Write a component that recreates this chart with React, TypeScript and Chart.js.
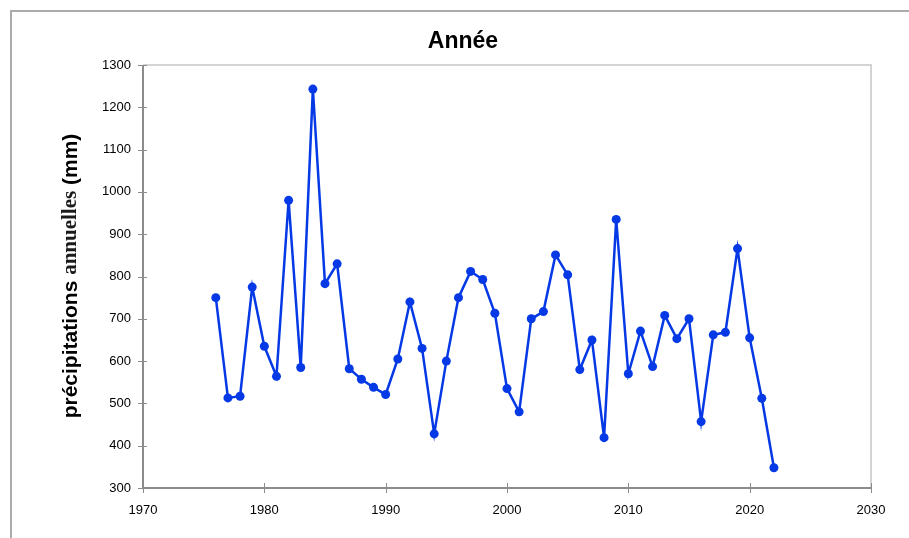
import React, { useEffect, useRef } from "react";
import { Chart, registerables } from "chart.js";

Chart.register(...registerables);

const years = [
  1976, 1977, 1978, 1979, 1980, 1981, 1982, 1983, 1984, 1985, 1986, 1987, 1988, 1989, 1990,
  1991, 1992, 1993, 1994, 1995, 1996, 1997, 1998, 1999, 2000, 2001, 2002, 2003, 2004, 2005,
  2006, 2007, 2008, 2009, 2010, 2011, 2012, 2013, 2014, 2015, 2016, 2017, 2018, 2019, 2020,
  2021, 2022,
];
const precipitations = [
  750, 513, 517, 775, 635, 564, 980, 585, 1243, 783, 830, 582, 557, 538, 521,
  605, 740, 630, 428, 600, 750, 812, 793, 713, 535, 480, 700, 717, 851, 804,
  580, 650, 419, 935, 570, 671, 587, 708, 653, 700, 457, 662, 668, 866, 655,
  512, 348,
];
const xTicks = [1970, 1980, 1990, 2000, 2010, 2020, 2030];
const yTicks = [300, 400, 500, 600, 700, 800, 900, 1000, 1100, 1200, 1300];
const titleText = "Année";
const yTitleParts = ["précipitations ", "annuelles", " (mm)"];

export default function App() {
  const ref = useRef<HTMLCanvasElement | null>(null);

  useEffect(() => {
    const canvas = ref.current;
    if (!canvas) return;

    const decor = {
      id: "decor",
      beforeDraw(chart: any) {
        const ctx = chart.ctx;
        ctx.save();
        ctx.fillStyle = "#ffffff";
        ctx.fillRect(0, 0, chart.width, chart.height);
        ctx.strokeStyle = "#ababab";
        ctx.lineWidth = 2;
        ctx.beginPath();
        ctx.moveTo(11, chart.height);
        ctx.lineTo(11, 11);
        ctx.lineTo(chart.width, 11);
        ctx.stroke();
        ctx.restore();
      },
      afterDraw(chart: any) {
        const ctx = chart.ctx;
        const a = chart.chartArea;
        const xs = chart.scales.x;
        const ys = chart.scales.y;
        ctx.save();
        // light plot frame (top/right)
        ctx.strokeStyle = "#d4d4d4";
        ctx.lineWidth = 2;
        ctx.beginPath();
        ctx.moveTo(a.left, a.top);
        ctx.lineTo(a.right, a.top);
        ctx.lineTo(a.right, a.bottom);
        ctx.stroke();
        // axes
        ctx.strokeStyle = "#8c8c8c";
        ctx.lineWidth = 2;
        ctx.beginPath();
        ctx.moveTo(a.left, a.top);
        ctx.lineTo(a.left, a.bottom);
        ctx.lineTo(a.right, a.bottom);
        ctx.stroke();
        ctx.lineWidth = 1;
        ctx.strokeStyle = "#8c8c8c";
        ctx.beginPath();
        for (const v of yTicks) {
          const y = Math.round(ys.getPixelForValue(v)) + 0.5;
          ctx.moveTo(a.left - 5, y);
          ctx.lineTo(a.left + 4, y);
        }
        for (const v of xTicks) {
          const x = Math.round(xs.getPixelForValue(v)) + 0.5;
          ctx.moveTo(x, a.bottom - 5);
          ctx.lineTo(x, a.bottom + 5);
        }
        ctx.stroke();

        // title
        ctx.fillStyle = "#000";
        ctx.font = "bold 23px 'Liberation Sans', Arial, sans-serif";
        ctx.textAlign = "center";
        ctx.textBaseline = "middle";
        ctx.fillText(titleText, 463, 42);

        // y title with mixed fonts
        const fonts = [
          "bold 21px 'Liberation Sans', Arial, sans-serif",
          "bold 21px 'Liberation Serif', 'Times New Roman', serif",
          "bold 21px 'Liberation Sans', Arial, sans-serif",
        ];
        const widths = yTitleParts.map((t, i) => {
          ctx.font = fonts[i];
          return ctx.measureText(t).width;
        });
        const total = widths.reduce((s, w) => s + w, 0);
        ctx.translate(71, 276);
        ctx.rotate(-Math.PI / 2);
        ctx.textAlign = "left";
        ctx.textBaseline = "middle";
        let pos = -total / 2;
        yTitleParts.forEach((t, i) => {
          ctx.font = fonts[i];
          ctx.fillStyle = i === 1 ? "#1a1a1a" : "#000";
          ctx.fillText(t, pos, 0);
          pos += widths[i];
        });
        ctx.restore();
      },
    };

    const chart = new Chart(canvas, {
      type: "line",
      data: {
        datasets: [
          {
            label: titleText,
            data: years.map((y, i) => ({ x: y, y: precipitations[i] })),
            borderColor: "#0539e6",
            backgroundColor: "#0539e6",
            borderWidth: 2.5,
            pointRadius: 4.5,
            pointHoverRadius: 4.5,
            pointBorderWidth: 0,
            tension: 0,
          },
        ],
      },
      options: {
        animation: false,
        responsive: false,
        devicePixelRatio: 1,
        layout: { padding: { top: 65, right: 38, bottom: 0, left: 0 } },
        plugins: { legend: { display: false }, title: { display: false }, tooltip: { enabled: false } },
        scales: {
          x: {
            type: "linear",
            min: 1970,
            max: 2030,
            afterBuildTicks: (s: any) => {
              s.ticks = xTicks.map((v) => ({ value: v }));
            },
            afterFit: (s: any) => {
              s.height = 50;
            },
            grid: { display: false },
            border: { display: false },
            ticks: {
              padding: 7,
              color: "#000",
              font: { family: "'Liberation Sans', Arial, sans-serif", size: 13 },
              maxRotation: 0,
              callback: (v: any) => String(v),
            },
          },
          y: {
            min: 300,
            max: 1300,
            afterBuildTicks: (s: any) => {
              s.ticks = yTicks.map((v) => ({ value: v }));
            },
            afterFit: (s: any) => {
              s.width = 143;
            },
            grid: { display: false },
            border: { display: false },
            ticks: {
              padding: 4,
              color: "#000",
              font: { family: "'Liberation Sans', Arial, sans-serif", size: 13 },
              callback: (v: any) => String(v),
            },
          },
        },
      },
      plugins: [decor],
    });
    return () => chart.destroy();
  }, []);

  return (
    <div style={{ position: "fixed", left: 0, top: 0, width: 909, height: 538, background: "#fff" }}>
      <canvas ref={ref} width={909} height={538} style={{ display: "block", width: 909, height: 538 }} />
    </div>
  );
}
